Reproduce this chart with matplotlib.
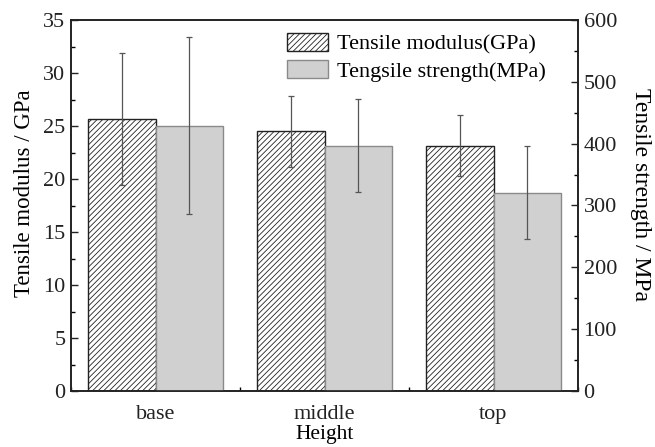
import numpy as np
import matplotlib.pyplot as plt
from matplotlib.ticker import MultipleLocator

plt.rcParams['font.family'] = ['Liberation Serif', 'DejaVu Serif']
plt.rcParams['hatch.linewidth'] = 0.6

categories = ['base', 'middle', 'top']
modulus = [25.65, 24.5, 23.13]       # GPa
modulus_err = [6.2, 3.35, 2.88]
strength = [429, 397, 320.5]         # MPa
strength_err = [143, 74.5, 75]

x = np.arange(len(categories))
w = 0.4

fig = plt.figure(figsize=(6.55, 4.47), dpi=100)
ax = fig.add_axes([71 / 655, 1 - 391 / 447, 507 / 655, 371 / 447])
ax2 = ax.twinx()

b1 = ax.bar(x - w / 2, modulus, w, yerr=modulus_err, color='white', edgecolor='#222222',
            hatch='//////', linewidth=1.0, ecolor='#555555',
            error_kw=dict(elinewidth=0.9, capsize=2.5, capthick=0.9))
b2 = ax2.bar(x + w / 2, strength, w, yerr=strength_err, color='#d0d0d0', edgecolor='#8a8a8a',
             linewidth=1.0, ecolor='#555555',
             error_kw=dict(elinewidth=0.9, capsize=2.5, capthick=0.9))

ax.set_xlim(-0.5, 2.5)
ax.set_ylim(0, 35)
ax2.set_ylim(0, 600)
ax.set_xticks(x)
ax.set_xticklabels(categories)
ax.xaxis.set_minor_locator(MultipleLocator(0.5))
ax.yaxis.set_major_locator(MultipleLocator(5))
ax.yaxis.set_minor_locator(MultipleLocator(2.5))
ax2.yaxis.set_major_locator(MultipleLocator(100))
ax2.yaxis.set_minor_locator(MultipleLocator(50))

for a in (ax, ax2):
    a.tick_params(which='major', direction='in', length=5, width=1.0, labelsize=16, colors='#222222')
    a.tick_params(which='minor', direction='in', length=3, width=1.0)
    for s in a.spines.values():
        s.set_linewidth(1.2)
        s.set_color('#222222')
ax.tick_params(axis='x', which='major', length=0, pad=10)
ax.tick_params(axis='x', which='minor', length=3)
ax.tick_params(axis='y', pad=4)
ax2.tick_params(axis='y', pad=4)

ax.set_xlabel('Height', fontsize=15.5)
ax.set_ylabel('Tensile modulus / GPa', fontsize=16.5)
ax2.set_ylabel('Tensile strength / MPa', fontsize=17, rotation=270)
ax.xaxis.set_label_coords(0.5, (391 - 435) / 371)
ax.xaxis.label.set_va('center')
ax.yaxis.set_label_coords((25 - 71) / 507, (391 - 193) / 371)
ax2.yaxis.set_label_coords((641 - 71) / 507, (391 - 194) / 371)
ax.yaxis.label.set_va('center')
ax2.yaxis.label.set_va('center')

ax2.legend([b1, b2], ['Tensile modulus(GPa)', 'Tengsile strength(MPa)'],
           loc='upper left', bbox_to_anchor=((287 - 71) / 507, (391 - 33) / 371),
           frameon=False, fontsize=16, handlelength=1.85, handleheight=0.85,
           handletextpad=0.4, labelspacing=0.25, borderpad=0, borderaxespad=0)

fig.savefig('out.png', dpi=100)
